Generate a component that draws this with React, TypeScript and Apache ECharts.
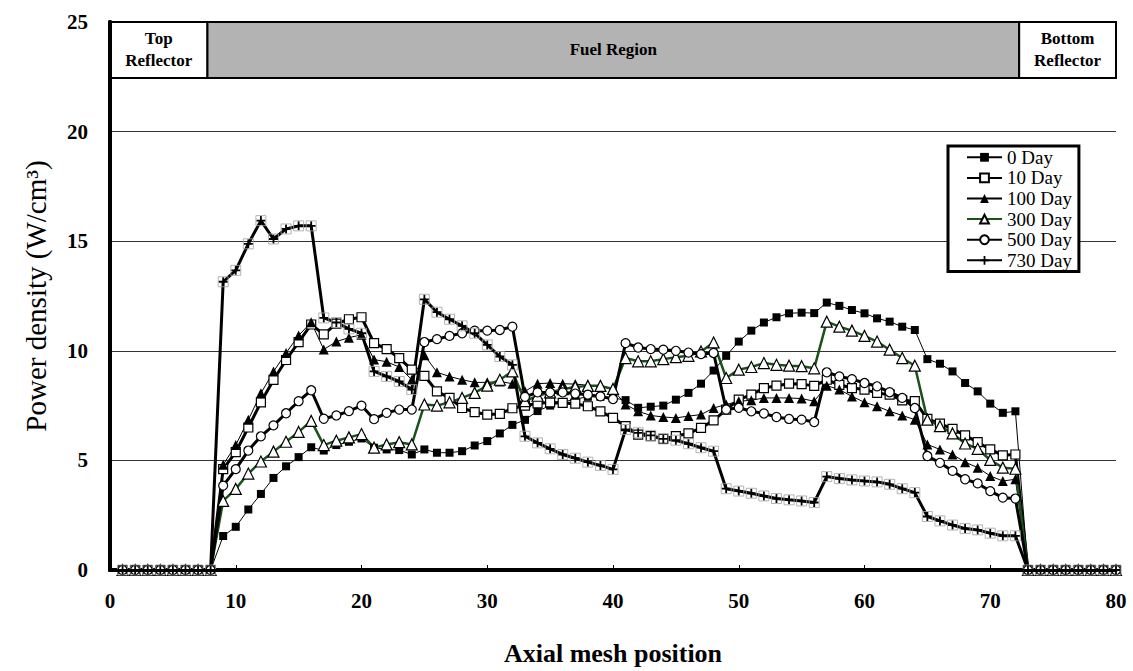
import React, { useEffect, useRef } from "react";
import * as echarts from "echarts";

const meshPositions = [
  1, 2, 3, 4, 5, 6, 7, 8, 9, 10, 11, 12, 13, 14, 15, 16, 17, 18, 19, 20,
  21, 22, 23, 24, 25, 26, 27, 28, 29, 30, 31, 32, 33, 34, 35, 36, 37, 38, 39, 40,
  41, 42, 43, 44, 45, 46, 47, 48, 49, 50, 51, 52, 53, 54, 55, 56, 57, 58, 59, 60,
  61, 62, 63, 64, 65, 66, 67, 68, 69, 70, 71, 72, 73, 74, 75, 76, 77, 78, 79, 80,
];

const day0 = [
  0, 0, 0, 0, 0, 0, 0, 0,
  1.55, 1.97, 2.76, 3.47, 4.2, 4.73, 5.15, 5.6,
  5.45, 5.7, 5.85, 6.0, 5.58, 5.5, 5.47, 5.27,
  5.5, 5.35, 5.35, 5.42, 5.68, 5.88, 6.23, 6.62,
  6.85, 7.25, 7.5, 7.65, 7.8, 7.9, 7.9, 7.85,
  7.75, 7.4, 7.45, 7.5, 7.77, 8.08, 8.5, 9.1,
  9.77, 10.42, 10.92, 11.29, 11.53, 11.71, 11.74, 11.72,
  12.2, 12.05, 11.86, 11.71, 11.48, 11.33, 11.1, 10.95,
  9.62, 9.41, 9.06, 8.53, 8.15, 7.59, 7.17, 7.24,
  0, 0, 0, 0, 0, 0, 0, 0,
];

const day10 = [
  0, 0, 0, 0, 0, 0, 0, 0,
  4.6, 5.38, 6.5, 7.65, 8.67, 9.58, 10.4, 11.2,
  10.75, 11.24, 11.44, 11.53, 10.35, 10.08, 9.67, 9.14,
  8.86, 8.15, 7.85, 7.39, 7.2, 7.09, 7.12, 7.38,
  7.5, 7.6, 7.65, 7.62, 7.59, 7.47, 7.24, 6.94,
  6.56, 6.18, 6.11, 5.98, 6.11, 6.23, 6.48, 6.83,
  7.32, 7.77, 8.0, 8.3, 8.41, 8.5, 8.48, 8.4,
  8.68, 8.45, 8.3, 8.23, 8.08, 8.0, 7.74, 7.7,
  6.89, 6.68, 6.44, 6.14, 5.83, 5.5, 5.23, 5.27,
  0, 0, 0, 0, 0, 0, 0, 0,
];

const day100 = [
  0, 0, 0, 0, 0, 0, 0, 0,
  4.8, 5.7, 6.85, 8.06, 9.05, 9.9, 10.7, 11.3,
  10.06, 10.42, 10.6, 10.73, 9.6, 9.5, 9.26, 8.68,
  9.8, 9.02, 8.83, 8.68, 8.56, 8.56, 8.6, 8.5,
  8.15, 8.5, 8.53, 8.5, 8.48, 8.43, 8.38, 8.23,
  7.55, 7.24, 7.05, 6.98, 6.94, 7.02, 7.09, 7.39,
  7.55, 7.7, 7.74, 7.85, 7.85, 7.85, 7.82, 7.7,
  8.41, 8.23, 7.92, 7.65, 7.47, 7.24, 7.05, 6.86,
  5.73, 5.5, 5.27, 4.92, 4.67, 4.29, 4.06, 4.14,
  0, 0, 0, 0, 0, 0, 0, 0,
];

const day300 = [
  0, 0, 0, 0, 0, 0, 0, 0,
  3.15, 3.7, 4.4, 4.95, 5.4, 5.85, 6.3, 6.8,
  5.7, 5.9, 6.05, 6.2, 5.58, 5.73, 5.83, 5.73,
  7.55, 7.5, 7.65, 7.85, 8.08, 8.41, 8.68, 9.06,
  7.7, 7.95, 8.1, 8.25, 8.35, 8.4, 8.4, 8.26,
  9.67, 9.52, 9.52, 9.62, 9.71, 9.77, 9.97, 10.38,
  8.76, 9.14, 9.26, 9.44, 9.36, 9.32, 9.3, 9.2,
  11.33, 11.1, 10.92, 10.68, 10.42, 10.05, 9.67, 9.32,
  6.86, 6.56, 6.23, 5.77, 5.53, 5.02, 4.67, 4.62,
  0, 0, 0, 0, 0, 0, 0, 0,
];

const day500 = [
  0, 0, 0, 0, 0, 0, 0, 0,
  3.85, 4.6, 5.45, 6.1, 6.6, 7.15, 7.7, 8.2,
  6.9, 7.05, 7.25, 7.5, 6.88, 7.17, 7.32, 7.32,
  10.4, 10.53, 10.68, 10.8, 10.92, 10.92, 10.95, 11.1,
  7.9, 8.1, 8.1, 8.1, 8.05, 8.0, 7.92, 7.8,
  10.35, 10.15, 10.08, 10.05, 10.0, 9.92, 9.85, 9.9,
  7.32, 7.4, 7.24, 7.14, 6.98, 6.89, 6.86, 6.75,
  9.02, 8.83, 8.71, 8.53, 8.38, 8.11, 7.85, 7.39,
  5.2, 4.89, 4.52, 4.14, 3.95, 3.6, 3.3, 3.26,
  0, 0, 0, 0, 0, 0, 0, 0,
];

const day730 = [
  0, 0, 0, 0, 0, 0, 0, 0,
  13.15, 13.67, 14.88, 15.94, 15.1, 15.56, 15.7, 15.7,
  11.5, 11.29, 11.0, 10.8, 9.06, 8.83, 8.6, 8.23,
  12.35, 11.76, 11.44, 11.14, 10.8, 10.27, 9.74, 9.36,
  6.1, 5.8, 5.53, 5.27, 5.1, 4.92, 4.77, 4.59,
  6.41, 6.26, 6.14, 5.98, 5.92, 5.76, 5.58, 5.42,
  3.71, 3.6, 3.5, 3.38, 3.26, 3.2, 3.15, 3.08,
  4.26, 4.17, 4.11, 4.06, 4.02, 3.91, 3.71, 3.53,
  2.44, 2.24, 2.05, 1.89, 1.83, 1.68, 1.56, 1.56,
  0, 0, 0, 0, 0, 0, 0, 0,
];

const seriesNames = ["0 Day", "10 Day", "100 Day", "300 Day", "500 Day", "730 Day"];

const regionNames = ["Top\nReflector", "Fuel Region", "Bottom\nReflector"];
const regionStart = [0, 7.75, 72.3];
const regionEnd = [7.75, 72.3, 80];
const regionFill = ["#ffffff", "#b3b3b3", "#ffffff"];
const headerBottom = 22.45;
const headerTop = 25;

const FONT = "'Liberation Serif', 'Times New Roman', serif";
const PLUS = "path://M4,0H6V4H10V6H6V10H4V6H0V4H4Z";

const pairs = (vals: number[]) => meshPositions.map((x, k) => [x, vals[k]]);

export default function App() {
  const ref = useRef<HTMLDivElement>(null);

  useEffect(() => {
    const chart = echarts.init(ref.current!, null, { renderer: "svg" });

    const areaData = regionNames.map((n, k) => [
      { name: n, xAxis: regionStart[k], yAxis: headerBottom, itemStyle: { color: regionFill[k] } },
      { xAxis: regionEnd[k], yAxis: headerTop },
    ]);

    const baseLine = (name: string, vals: number[], extra: any) => ({
      name,
      type: "line",
      data: pairs(vals),
      showSymbol: true,
      showAllSymbol: true,
      silent: true,
      emphasis: { disabled: true },
      ...extra,
    });

    const option: any = {
      animation: false,
      backgroundColor: "#ffffff",
      grid: { left: 110, right: 17, top: 22, bottom: 101, containLabel: false },
      legend: {
        data: seriesNames,
        orient: "vertical",
        left: 948,
        top: 146,
        backgroundColor: "#ffffff",
        borderColor: "#000",
        borderWidth: 3,
        borderRadius: 0,
        padding: [1, 7, 1, 18],
        itemWidth: 35,
        itemHeight: 11,
        itemGap: 0,
        selectedMode: false,
        textStyle: { fontFamily: FONT, fontSize: 19, color: "#000", lineHeight: 20.6 },
      },
      xAxis: [
        {
          type: "value",
          min: 0,
          max: 80,
          interval: 10,
          axisLine: { show: true, lineStyle: { color: "#000", width: 4 } },
          axisTick: { show: true, inside: true, length: 5, lineStyle: { color: "#000", width: 1 } },
          splitLine: { show: false },
          axisLabel: { fontFamily: FONT, fontWeight: "bold", fontSize: 21, color: "#000", margin: 20 },
          name: "Axial mesh position",
          nameLocation: "middle",
          nameGap: 70,
          nameTextStyle: { fontFamily: FONT, fontWeight: "bold", fontSize: 26, color: "#000" },
        },
        {
          type: "value",
          position: "top",
          min: 0,
          max: 80,
          z: 10,
          axisLine: { show: true, lineStyle: { color: "#000", width: 3 } },
          axisTick: { show: false },
          axisLabel: { show: false },
          splitLine: { show: false },
        },
      ],
      yAxis: [
        {
          type: "value",
          min: 0,
          max: 25,
          interval: 5,
          axisLine: { show: true, lineStyle: { color: "#000", width: 4 } },
          axisTick: { show: false },
          splitLine: { show: true, lineStyle: { color: "#333", width: 1 } },
          axisLabel: { fontFamily: FONT, fontWeight: "bold", fontSize: 21, color: "#000", margin: 22 },
          name: "Power density (W/cm³)",
          nameLocation: "middle",
          nameGap: 60,
          nameTextStyle: { fontFamily: FONT, fontSize: 29, color: "#000" },
        },
        {
          type: "value",
          position: "right",
          min: 0,
          max: 25,
          z: 10,
          axisLine: { show: true, lineStyle: { color: "#000", width: 4 } },
          axisTick: { show: false },
          axisLabel: { show: false },
          splitLine: { show: false },
        },
      ],
      series: [
        baseLine(seriesNames[0], day0, {
          symbol: "rect",
          symbolSize: 8,
          itemStyle: { color: "#000" },
          lineStyle: { color: "#000", width: 1 },
          markArea: {
            silent: true,
            itemStyle: { borderColor: "#000", borderWidth: 2 },
            label: {
              show: true,
              position: "inside",
              fontFamily: FONT,
              fontWeight: "bold",
              fontSize: 17,
              lineHeight: 22,
              color: "#000",
            },
            data: areaData,
          },
        }),
        baseLine(seriesNames[1], day10, {
          symbol: "rect",
          symbolSize: 9,
          itemStyle: { color: "#fff", borderColor: "#000", borderWidth: 1.2 },
          lineStyle: { color: "#000", width: 3 },
        }),
        baseLine(seriesNames[2], day100, {
          symbol: "triangle",
          symbolSize: 10,
          itemStyle: { color: "#000" },
          lineStyle: { color: "#000", width: 1 },
        }),
        baseLine(seriesNames[3], day300, {
          symbol: "triangle",
          symbolSize: 11,
          itemStyle: { color: "#fff", borderColor: "#000", borderWidth: 1.2 },
          lineStyle: { color: "#1a531a", width: 2.5 },
        }),
        baseLine(seriesNames[4], day500, {
          symbol: "circle",
          symbolSize: 9,
          itemStyle: { color: "#fff", borderColor: "#000", borderWidth: 1.2 },
          lineStyle: { color: "#000", width: 3 },
        }),
        baseLine(seriesNames[5], day730, {
          symbol: PLUS,
          symbolSize: 9,
          itemStyle: { color: "#000" },
          lineStyle: { color: "#000", width: 3 },
        }),
        {
          name: "730 Day frame",
          type: "scatter",
          data: pairs(day730),
          symbol: "rect",
          symbolSize: 10,
          silent: true,
          emphasis: { disabled: true },
          itemStyle: { color: "rgba(255,255,255,0)", borderColor: "#a0a0a0", borderWidth: 1 },
          z: 3,
        },
      ],
    };

    chart.setOption(option);
    return () => chart.dispose();
  }, []);

  return (
    <div
      ref={ref}
      style={{ position: "fixed", left: 0, top: 0, width: 1133, height: 671, background: "#fff" }}
    />
  );
}
